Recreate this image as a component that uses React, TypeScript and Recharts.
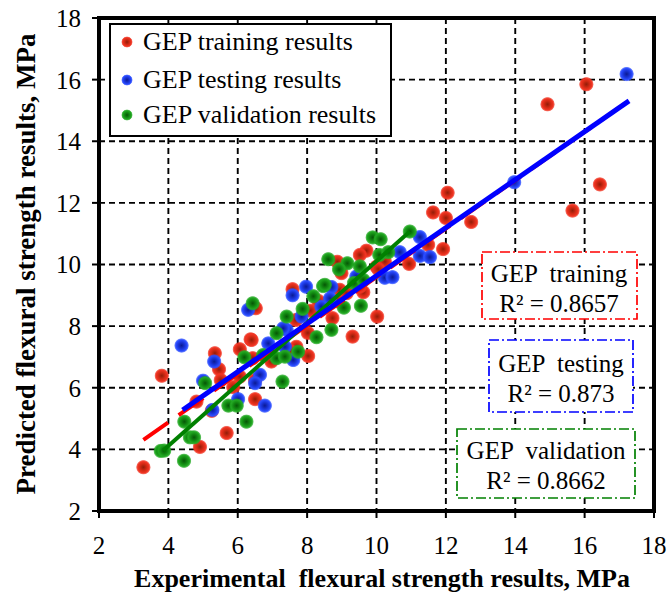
import React from 'react';
import {
  ScatterChart,
  Scatter,
  XAxis,
  YAxis,
  CartesianGrid,
  ReferenceLine,
  ReferenceArea,
  Legend,
  Customized,
} from 'recharts';

// ---------- data ----------
const xTicks = [2, 4, 6, 8, 10, 12, 14, 16, 18];
const yTicks = [2, 4, 6, 8, 10, 12, 14, 16, 18];

const seriesNames = ['GEP training results', 'GEP testing results', 'GEP validation results'];

const trainingPoints: [number, number][] = [
  [3.28, 3.42], [3.81, 6.39], [4.91, 4.08], [4.81, 5.55], [5.68, 4.53], [5.25, 5.25],
  [5.34, 7.12], [5.46, 6.6], [5.51, 6.25], [5.87, 6.02], [6.06, 7.25], [6.37, 7.57],
  [6.43, 6.96], [6.06, 6.36], [6.5, 6.25], [6.5, 5.63], [6.52, 8.58], [6.97, 6.85],
  [8.03, 7.03], [7.69, 7.33], [7.5, 7.2], [8.02, 7.78], [7.58, 9.2], [7.68, 8.2],
  [8.32, 8.82], [8.1, 8.5], [8.94, 9.18], [9.14, 9.07], [9.62, 9.1], [9.52, 9.28],
  [8.89, 8.8], [8.87, 10.09], [8.99, 9.72], [9.71, 10.45], [9.52, 10.31], [10.0, 9.93],
  [10.24, 10.09], [10.05, 9.85], [10.94, 10.02], [10.02, 8.31], [8.73, 8.26], [9.31, 7.66],
  [6.4, 7.55], [11.49, 10.64], [11.92, 10.5], [12.0, 11.51], [11.63, 11.69], [12.05, 12.33],
  [12.73, 11.38], [15.65, 11.75], [16.44, 12.6], [14.93, 15.2], [16.05, 15.85],
];

const testingPoints: [number, number][] = [
  [4.38, 7.37], [5.0, 6.23], [5.27, 5.28], [5.32, 6.85], [6.01, 5.63], [6.78, 5.42],
  [6.3, 8.53], [6.64, 6.42], [6.5, 6.15], [6.88, 7.44], [7.6, 6.9], [7.41, 7.88],
  [7.31, 7.93], [7.36, 7.33], [7.58, 9.0], [7.97, 9.28], [7.84, 8.31], [8.41, 8.63],
  [8.7, 9.27], [8.66, 8.9], [9.42, 9.61], [10.24, 9.57], [10.46, 9.59], [10.67, 10.4],
  [11.25, 10.89], [11.25, 10.28], [11.54, 10.24], [13.97, 12.67], [17.21, 16.18],
];

const validationPoints: [number, number][] = [
  [3.78, 3.95], [3.88, 3.96], [4.45, 3.63], [4.46, 4.9], [4.62, 4.39], [4.74, 4.39],
  [5.06, 6.15], [5.73, 5.42], [5.97, 5.42], [6.25, 4.9], [6.19, 6.99], [6.43, 8.74],
  [6.73, 7.06], [7.12, 6.96], [7.36, 7.01], [7.29, 6.2], [7.74, 7.17], [7.12, 7.77],
  [7.41, 8.31], [7.87, 8.56], [8.18, 8.97], [8.27, 7.64], [8.46, 9.3], [8.51, 9.34],
  [9.06, 8.6], [8.7, 7.88], [9.55, 8.66], [9.35, 9.4], [9.62, 9.5], [8.61, 10.17],
  [9.16, 10.04], [9.52, 9.94], [8.92, 9.84], [9.89, 10.88], [10.12, 10.82], [10.08, 10.31],
  [10.34, 10.4], [10.96, 11.07],
];

// fitted trend line end points
const trainingFit: [number, number][] = [[3.28, 4.31], [17.2, 15.25]];
const testingFit: [number, number][] = [[4.41, 5.28], [17.28, 15.31]];
const validationFit: [number, number][] = [[3.85, 3.96], [10.96, 11.07]];

const r2Labels = [
  { name: 'GEP  training', r2: 'R² = 0.8657' },
  { name: 'GEP  testing', r2: 'R² = 0.873' },
  { name: 'GEP  validation', r2: 'R² = 0.8662' },
];

const xTitle = 'Experimental  flexural strength results, MPa';
const yTitle = 'Predicted flexural strength results, MPa';

// ---------- styles ----------
const FONT = '"Liberation Serif", "Times New Roman", serif';
const colors = {
  red: { edge: '#f03422', mid: '#d22a14', core: '#931c08' },
  blue: { edge: '#2a4cff', mid: '#1a34d8', core: '#0a1a94' },
  green: { edge: '#22a822', mid: '#128a12', core: '#065606' },
};
const lineColors = ['#ff0000', '#0000ff', '#008000'];
const gradIds = ['gRed', 'gBlue', 'gGreen'];
const colorList = [colors.red, colors.blue, colors.green];

const toXY = (arr: [number, number][]) => arr.map(([x, y]) => ({ x, y }));

const GradStops = ({ c }: { c: { edge: string; mid: string; core: string } }) => (
  <>
    <stop offset="0%" stopColor={c.core} />
    <stop offset="45%" stopColor={c.mid} />
    <stop offset="75%" stopColor={c.edge} />
    <stop offset="88%" stopColor={c.edge} stopOpacity={0.75} />
    <stop offset="100%" stopColor={c.edge} stopOpacity={0.05} />
  </>
);

const makeShape = (id: string) => (props: any) => {
  const { cx, cy } = props;
  if (cx == null || cy == null) return <g />;
  return <circle cx={cx} cy={cy} r={7.5} fill={`url(#${id})`} />;
};

const LegendBox = () => {
  const rowTops = [2, 40, 75];
  return (
    <div
      style={{
        width: 283,
        height: 114,
        boxSizing: 'border-box',
        border: '2px solid #000',
        background: '#fff',
        position: 'relative',
        fontFamily: FONT,
        fontSize: 26,
        color: '#000',
      }}
    >
      {seriesNames.map((name, i) => (
        <div
          key={name}
          style={{
            position: 'absolute',
            left: 9,
            top: rowTops[i],
            height: 30,
            display: 'flex',
            alignItems: 'center',
            whiteSpace: 'nowrap',
            lineHeight: '30px',
          }}
        >
          <svg width={14} height={14} style={{ display: 'block' }}>
            <defs>
              <radialGradient id={`lg${i}`} cx="50%" cy="50%" r="50%">
                <GradStops c={colorList[i]} />
              </radialGradient>
            </defs>
            <circle cx={7} cy={7} r={5.8} fill={`url(#lg${i})`} />
          </svg>
          <span style={{ marginLeft: 9 }}>{name}</span>
        </div>
      ))}
    </div>
  );
};

const Annotations = () => {
  const boxes = [
    { x: 482, y: 252, w: 155, h: 67, cx: 559, l1: 273, l2: 303 },
    { x: 489, y: 340, w: 144, h: 72, cx: 561, l1: 363, l2: 393 },
    { x: 457, y: 429, w: 178, h: 69, cx: 546, l1: 450, l2: 480 },
  ];
  return (
    <g>
      {boxes.map((b, i) => (
        <g key={i}>
          <rect
            x={b.x}
            y={b.y}
            width={b.w}
            height={b.h}
            fill="#fff"
            stroke={lineColors[i]}
            strokeWidth={1.7}
            strokeDasharray="10 3 2 3"
          />
          <text
            x={b.cx}
            y={b.l1}
            textAnchor="middle"
            dominantBaseline="central"
            fontFamily={FONT}
            fontSize={25}
            fill="#000"
            style={{ whiteSpace: 'pre' }}
          >
            {r2Labels[i].name}
          </text>
          <text
            x={b.cx}
            y={b.l2}
            textAnchor="middle"
            dominantBaseline="central"
            fontFamily={FONT}
            fontSize={25}
            fill="#000"
          >
            {r2Labels[i].r2}
          </text>
        </g>
      ))}
      <text
        x={382}
        y={587}
        textAnchor="middle"
        fontFamily={FONT}
        fontWeight="bold"
        fontSize={26}
        fill="#000"
        style={{ whiteSpace: 'pre' }}
      >
        {xTitle}
      </text>
      <text
        transform="translate(35,264) rotate(-90)"
        x={0}
        y={0}
        textAnchor="middle"
        fontFamily={FONT}
        fontWeight="bold"
        fontSize={27}
        fill="#000"
      >
        {yTitle}
      </text>
    </g>
  );
};

const tickStyle = { fill: '#000', fontSize: 25, fontFamily: FONT };

export default function App() {
  const series = [trainingPoints, testingPoints, validationPoints];
  const fits = [trainingFit, testingFit, validationFit];
  return (
    <div style={{ position: 'absolute', left: 0, top: 0, width: 670, height: 598, background: '#fff' }}>
      <ScatterChart
        width={670}
        height={598}
        margin={{ top: 18, right: 16, bottom: 0, left: 0 }}
      >
        <defs>
          {colorList.map((c, i) => (
            <radialGradient key={gradIds[i]} id={gradIds[i]} cx="50%" cy="50%" r="50%">
              <GradStops c={c} />
            </radialGradient>
          ))}
        </defs>
        <CartesianGrid stroke="#000" strokeWidth={1.9} strokeDasharray="6 4" />
        <XAxis
          type="number"
          dataKey="x"
          domain={[2, 18]}
          ticks={xTicks}
          allowDataOverflow
          height={87}
          tickSize={7}
          tickMargin={18}
          tick={tickStyle}
          axisLine={{ stroke: '#000', strokeWidth: 4 }}
          tickLine={{ stroke: '#000', strokeWidth: 2 }}
        />
        <YAxis
          type="number"
          dataKey="y"
          domain={[2, 18]}
          ticks={yTicks}
          allowDataOverflow
          width={99}
          tickSize={7}
          tickMargin={11}
          tick={tickStyle}
          axisLine={{ stroke: '#000', strokeWidth: 4 }}
          tickLine={{ stroke: '#000', strokeWidth: 2 }}
        />
        <Customized component={Annotations} />
        {series.map((pts, i) => (
          <Scatter
            key={seriesNames[i]}
            name={seriesNames[i]}
            data={toXY(pts)}
            shape={makeShape(gradIds[i])}
            isAnimationActive={false}
          />
        ))}
        {fits.map((f, i) => (
          <ReferenceLine
            key={`fit${i}`}
            segment={toXY(f)}
            stroke={lineColors[i]}
            strokeWidth={i === 1 ? 5 : 4}
            strokeDasharray={i === 0 ? '30 13' : undefined}
            ifOverflow="visible"
            {...({ zIndex: 700 + (i === 1 ? 20 : i === 2 ? 10 : 0) } as any)}
          />
        ))}
        <ReferenceArea
          x1={2}
          x2={18}
          y1={2}
          y2={18}
          fill="none"
          fillOpacity={0}
          stroke="#000"
          strokeWidth={4}
          ifOverflow="visible"
          {...({ zIndex: 800 } as any)}
        />
        <Legend
          layout="vertical"
          align="center"
          verticalAlign="middle"
          content={() => <LegendBox />}
          wrapperStyle={{ left: 109, top: 23, width: 283, height: 114 }}
        />
      </ScatterChart>
    </div>
  );
}
